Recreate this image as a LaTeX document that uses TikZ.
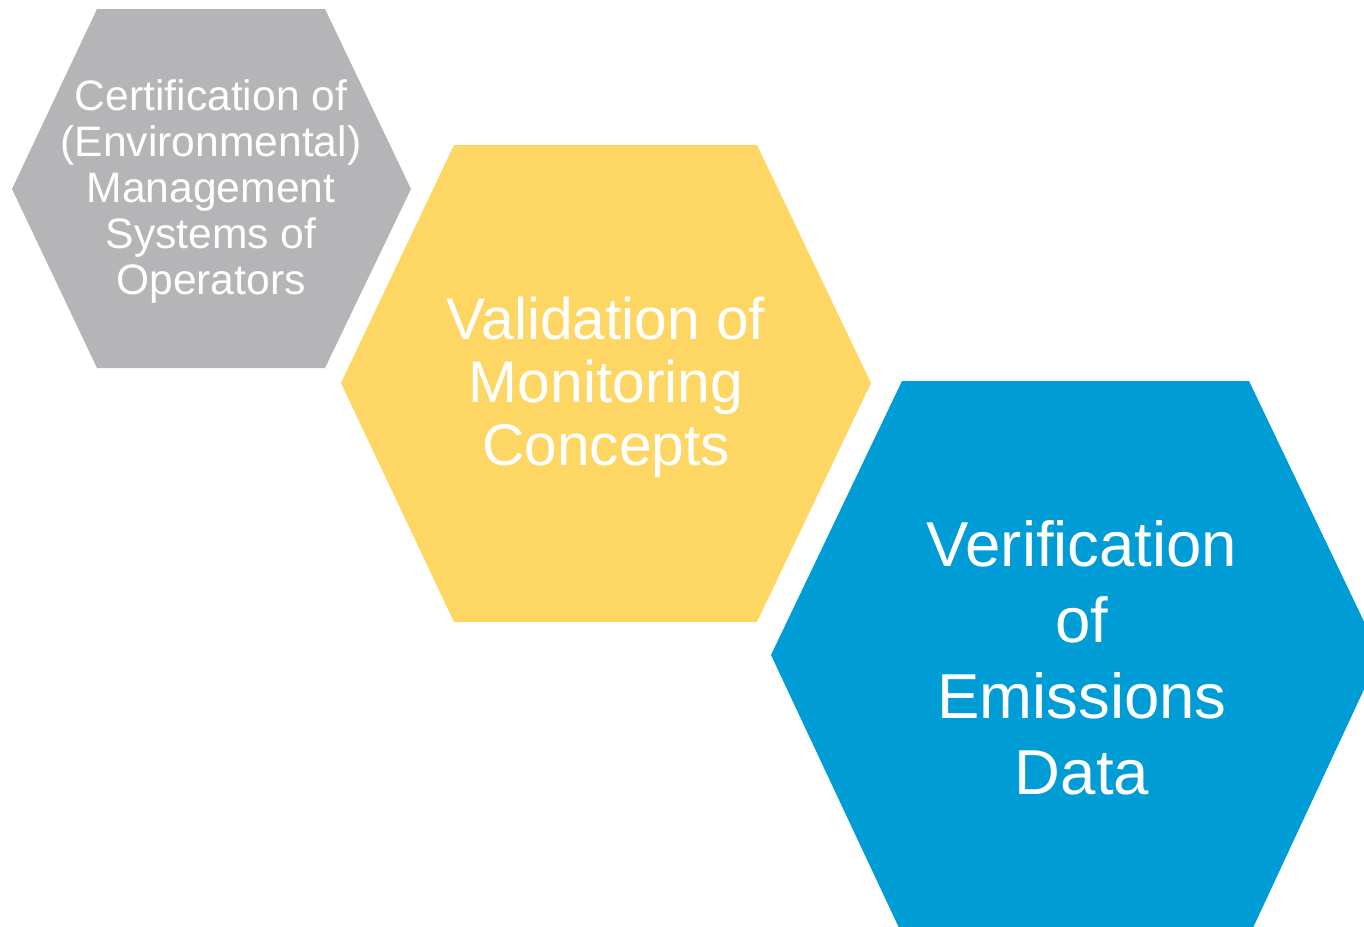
\documentclass[tikz,border=0pt]{standalone}
\usepackage{fontspec}
\setmainfont{Liberation Sans}
\definecolor{hexgray}{HTML}{B5B5B7}
\definecolor{hexyellow}{HTML}{FDD663}
\definecolor{hexblue}{HTML}{009CD6}
\tikzset{
  hextext/.style={text=white, align=center, inner sep=0pt},
}
\begin{document}
\begin{tikzpicture}[x=1pt,y=-1pt]
\useasboundingbox (0,0) rectangle (1364,926);
\clip (0,0) rectangle (1364,926);
\fill[hexgray] (97,9) -- (325,9) -- (411,189) -- (325,368) -- (97,368) -- (12,189) -- cycle;
\fill[hexyellow] (454,145) -- (757,145) -- (871,383) -- (757,622) -- (454,622) -- (341,383) -- cycle;
\fill[hexblue] (902,381) -- (1249,381) -- (1380,655) -- (1252,930) -- (900,930) -- (771,655) -- cycle;
\node[hextext, font=\fontsize{42.6}{46}\selectfont] (cert) at (211,191)
  {Certification of\\(Environmental)\\Management\\Systems of\\Operators};
\node[hextext, font=\fontsize{58.7}{63}\selectfont] (valid) at (606,387)
  {Validation of\\Monitoring\\Concepts};
\node[hextext, font=\fontsize{63.5}{76}\selectfont] (verif) at (1082,658)
  {Verification\\of\\Emissions\\Data};
\end{tikzpicture}
\end{document}
